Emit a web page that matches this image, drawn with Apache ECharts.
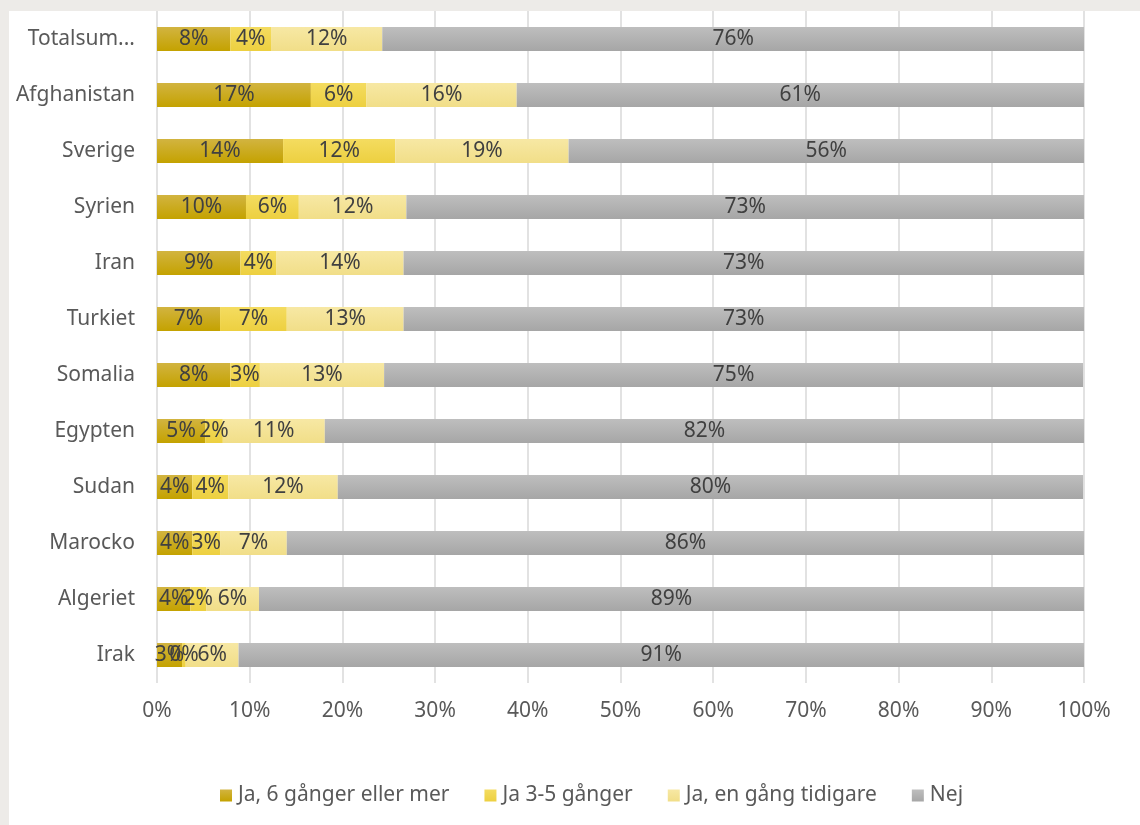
<!DOCTYPE html>
<html>
<head>
<meta charset="utf-8">
<script src="https://cdn.jsdelivr.net/npm/echarts@6/dist/echarts.min.js"></script>
<style>
    body { margin: 0; background: #edebe8; }
    #chart { position: absolute; left: 9px; top: 11px; width: 1131px; height: 814px; background: #fff; }
</style>
</head>
<body>
<div id="chart"></div>
<script>
// kategorier uppifrån och ned
var categories = ['Totalsumma', 'Afghanistan', 'Sverige', 'Syrien', 'Iran', 'Turkiet', 'Somalia', 'Egypten', 'Sudan', 'Marocko', 'Algeriet', 'Irak'];
var seriesNames = ['Ja, 6 gånger eller mer', 'Ja 3-5 gånger', 'Ja, en gång tidigare', 'Nej'];

// andelar i procent
var ja6 =    [7.9, 16.6, 13.6, 9.6, 9.0, 6.8, 7.9, 5.2, 3.8, 3.8, 3.6, 2.7];
var ja35 =   [4.4, 6.0, 12.1, 5.7, 3.9, 7.2, 3.2, 1.9, 3.9, 3.0, 1.7, 0.4];
var jaEn =   [12.0, 16.2, 18.7, 11.6, 13.7, 12.6, 13.4, 11.0, 11.8, 7.2, 5.7, 5.7];
var nej =    [75.7, 61.2, 55.6, 73.1, 73.4, 73.4, 75.4, 81.9, 80.4, 86.0, 89.0, 91.2];

var xTicks = [0, 10, 20, 30, 40, 50, 60, 70, 80, 90, 100];

;(function(){
    var chart = echarts.init(document.getElementById('chart'));

    function grad(top, bottom) {
        return new echarts.graphic.LinearGradient(0, 0, 0, 1, [
            { offset: 0, color: top },
            { offset: 1, color: bottom }
        ]);
    }
    var colors = [
        grad('#d2b440', '#c4a200'),
        grad('#f4dc60', '#edd040'),
        grad('#f7e8a4', '#f1de88'),
        grad('#bebebe', '#a6a6a6')
    ];
    var values = [ja6, ja35, jaEn, nej];

    var series = values.map(function(arr, i){
        return {
            name: seriesNames[i],
            type: 'bar',
            stack: 'total',
            data: arr,
            barWidth: 24,
            itemStyle: { color: colors[i] },
            label: {
                show: true,
                position: 'inside',
                color: '#404040',
                fontSize: 21,
                fontFamily: 'Noto Sans',
                formatter: function(p){ return Math.round(p.value) + '%'; }
            }
        };
    });

    // första etiketten är avkortad som i originalet
    var catData = categories.map(function(c, i){
        if (i === 0) {
            return { value: c, textStyle: { width: 116, overflow: 'truncate', ellipsis: '...' } };
        }
        return c;
    });

    var option = {
        animation: false,
        grid: { left: 148, right: 56, top: 0, bottom: 142 },
        legend: {
            bottom: 14,
            left: 206,
            itemWidth: 12,
            itemHeight: 12,
            itemGap: 35,
            icon: 'rect',
            textStyle: { color: '#595959', fontSize: 21, fontFamily: 'Noto Sans', padding: [0, 0, 0, 1] },
            data: seriesNames
        },
        xAxis: {
            type: 'value',
            min: 0,
            max: 100,
            interval: 10,
            axisLine: { show: false },
            axisTick: { show: false },
            splitLine: { lineStyle: { color: '#e2e2e2', width: 2 } },
            axisLabel: {
                color: '#595959',
                fontSize: 21,
                fontFamily: 'Noto Sans',
                margin: 18,
                formatter: function(v){ return xTicks.indexOf(v) >= 0 ? v + '%' : ''; }
            }
        },
        yAxis: {
            type: 'category',
            inverse: true,
            data: catData,
            axisLine: { show: false },
            axisTick: { show: false },
            axisLabel: {
                color: '#595959',
                fontSize: 21,
                fontFamily: 'Noto Sans',
                margin: 22
            }
        },
        series: series
    };

    chart.setOption(option);
})()
</script>
</body>
</html>
